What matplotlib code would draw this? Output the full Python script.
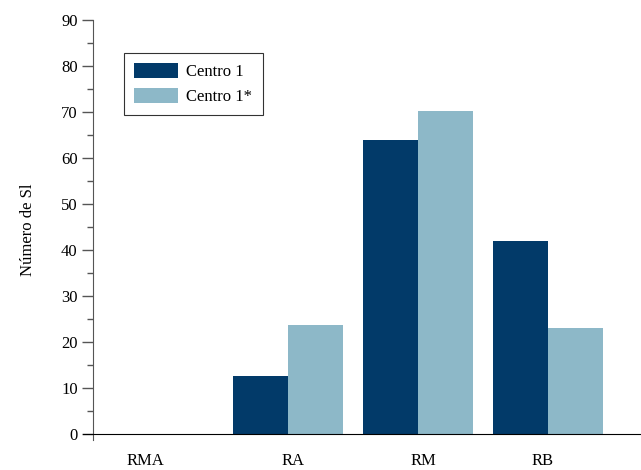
import matplotlib
matplotlib.use("Agg")
import matplotlib.pyplot as plt
import numpy as np
from matplotlib.ticker import MultipleLocator

categories = ["RMA", "RA", "RM", "RB"]
centro1 = [0, 12.6, 63.9, 42.0]
centro1s = [0, 23.7, 70.2, 23.0]
series_names = ["Centro 1", "Centro 1*"]
ylabel = "Número de Sl"

plt.rcParams['font.family'] = ['Liberation Serif', 'DejaVu Serif']
fig = plt.figure(figsize=(6.41, 4.70), dpi=100)
ax = fig.add_axes([83/641, 1 - 440/470, (641 - 83)/641, (440 - 20)/470])

dark = "#023a69"
light = "#8db8c8"
x = np.arange(len(categories))
w = 0.423
ax.bar(x - w/2, centro1, w, color=dark, label=series_names[0])
ax.bar(x + w/2, centro1s, w, color=light, label=series_names[1])

ax.set_xlim(-0.577, 3.715)
ax.set_ylim(-1.3, 90)
ax.spines['left'].set_position(('data', -0.5))
ax.spines['left'].set_bounds(-1.3, 90)
ax.spines['left'].set_color('#555555')
ax.spines['bottom'].set_position(('data', 0))
ax.spines['bottom'].set_color('black')
ax.spines['top'].set_visible(False)
ax.spines['right'].set_visible(False)

ax.set_yticks(np.arange(0, 91, 10))
ax.yaxis.set_minor_locator(MultipleLocator(5))
ax.tick_params(axis='y', which='major', length=8, width=1, color='#555555', labelsize=12, pad=3)
ax.tick_params(axis='y', which='minor', length=4, width=1, color='#555555')

label_pos = [-0.1, 1.04, 2.04, 2.96]
ax.set_xticks(label_pos)
ax.set_xticklabels(categories)
ax.tick_params(axis='x', length=0, labelsize=12, pad=14)

ax.set_ylabel(ylabel, fontsize=12, labelpad=18)

leg = ax.legend(loc='upper left', bbox_to_anchor=((124-83)/558, 1 - (52.7-20)/420),
                frameon=True, fancybox=False, edgecolor='black', fontsize=12,
                handlelength=2.65, handleheight=1.0, borderpad=0.6, labelspacing=0.5,
                handletextpad=0.5, borderaxespad=0)
leg.get_frame().set_linewidth(0.8)

fig.savefig("out.png", dpi=100)
